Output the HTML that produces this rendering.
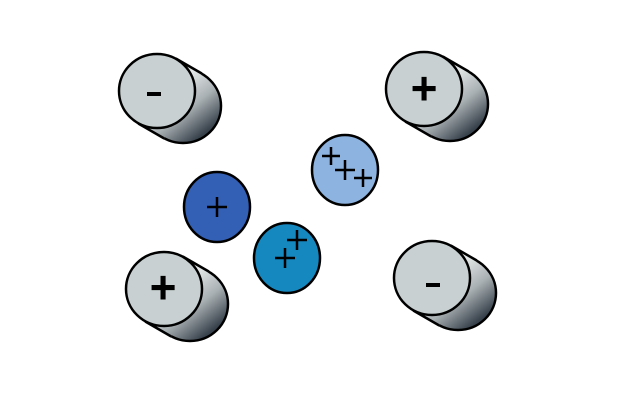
<!DOCTYPE html>
<html><head><style>html,body{margin:0;padding:0;background:#fff}svg{display:block}</style></head>
<body>
<svg width="640" height="400" viewBox="0 0 640 400" xmlns="http://www.w3.org/2000/svg">
<defs>
<linearGradient id="g" gradientUnits="userSpaceOnUse" x1="15" y1="-5" x2="50" y2="40">
<stop offset="0" stop-color="#e4e8e8"/><stop offset="0.5" stop-color="#a9b0b3"/><stop offset="1" stop-color="#38424c"/>
</linearGradient>
<g id="cyl">
<ellipse cx="26" cy="15" rx="38" ry="37" fill="url(#g)" stroke="#000" stroke-width="2.5"/>
<polygon points="-18.75,32.5 7.25,47.5 44.75,-17.5 18.75,-32.5" fill="url(#g)"/>
<line x1="-18.75" y1="32.5" x2="7.25" y2="47.5" stroke="#000" stroke-width="2.5"/>
<line x1="18.75" y1="-32.5" x2="44.75" y2="-17.5" stroke="#000" stroke-width="2.5"/>
<ellipse cx="0" cy="0" rx="38" ry="37" fill="#c8d0d1" stroke="#000" stroke-width="2.5"/>
</g>
</defs>
<use href="#cyl" x="157" y="91"/>
<use href="#cyl" x="424" y="89"/>
<use href="#cyl" x="164" y="289"/>
<use href="#cyl" x="432" y="278"/>
<g font-family="Liberation Sans, sans-serif" text-anchor="middle" fill="#000" font-weight="bold">
<rect x="147" y="92" width="14" height="4" fill="#000"/>
<rect x="426" y="283" width="14" height="4" fill="#000"/>
<text x="424" y="104" font-size="46">+</text>
<text x="163" y="303" font-size="46">+</text>
</g>
<ellipse cx="217" cy="207" rx="33" ry="35" fill="#335fb5" stroke="#000" stroke-width="2.5"/>
<ellipse cx="287" cy="258" rx="33" ry="35" fill="#1688c0" stroke="#000" stroke-width="2.5"/>
<ellipse cx="345" cy="170" rx="33" ry="35" fill="#8db3e0" stroke="#000" stroke-width="2.5"/>
<g stroke="#000" stroke-width="2.5" fill="none">
<path d="M207,207h20M217,197v20"/>
<path d="M287,240h20M297,230v20"/>
<path d="M275,258h20M285,248v20"/>
<path d="M322,156h18M331,147v18"/>
<path d="M335,170h20M345,160v20"/>
<path d="M354,178h18M363,169v18"/>
</g>
</svg>
</body></html>
